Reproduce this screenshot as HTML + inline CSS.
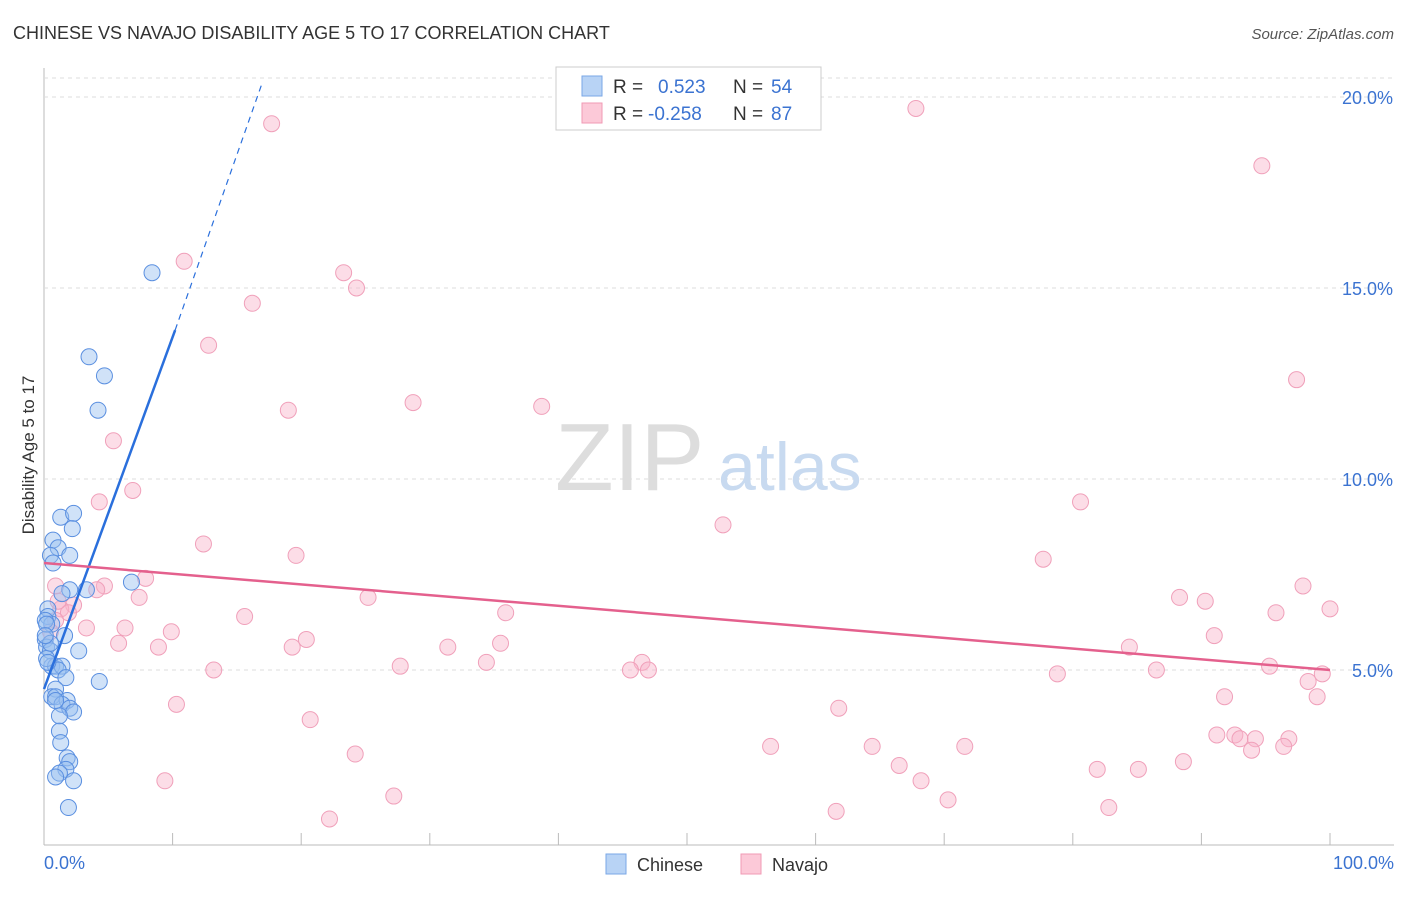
<!DOCTYPE html>
<html><head><meta charset="utf-8"><style>
body{margin:0;background:#fff;font-family:"Liberation Sans",sans-serif}
svg text{font-family:"Liberation Sans",sans-serif}
</style></head><body>
<svg id="chart" width="1406" height="892">
<text x="13" y="39" font-size="18" fill="#333">CHINESE VS NAVAJO DISABILITY AGE 5 TO 17 CORRELATION CHART</text>
<text x="1394" y="39" font-size="15" fill="#555" font-style="italic" text-anchor="end">Source: ZipAtlas.com</text>
<g id="grid"></g>
<text x="555" y="490" font-size="96" fill="#ddd" font-family="Liberation Serif">ZIP</text>
<text x="718" y="490" font-size="68" fill="#c8daf0">atlas</text>
<g id="pts"></g>
<g id="lines"></g>
<text transform="translate(34,455) rotate(-90)" font-size="17" fill="#333" text-anchor="middle">Disability Age 5 to 17</text>
<text x="44" y="869" font-size="18" fill="#3b73d1">0.0%</text>
<text x="1394" y="869" font-size="18" fill="#3b73d1" text-anchor="end">100.0%</text>
<g>
<rect x="556" y="67" width="265" height="63" fill="#fff" stroke="#ccc"/>
<rect x="582" y="76" width="20" height="20" fill="#b8d3f5" stroke="#7aa7e6"/>
<rect x="582" y="103" width="20" height="20" fill="#fcc9d8" stroke="#f09ab4"/>
<text x="613" y="93" font-size="19" fill="#333">R =</text><text x="658" y="93" font-size="19" fill="#3b73d1">0.523</text>
<text x="733" y="93" font-size="19" fill="#333">N =</text><text x="771" y="93" font-size="19" fill="#3b73d1">54</text>
<text x="613" y="120" font-size="19" fill="#333">R =</text><text x="648" y="120" font-size="19" fill="#3b73d1">-0.258</text>
<text x="733" y="120" font-size="19" fill="#333">N =</text><text x="771" y="120" font-size="19" fill="#3b73d1">87</text>
</g>
<g>
<rect x="606" y="854" width="20" height="20" fill="#b8d3f5" stroke="#7aa7e6"/>
<text x="637" y="871" font-size="18" fill="#333">Chinese</text>
<rect x="741" y="854" width="20" height="20" fill="#fcc9d8" stroke="#f09ab4"/>
<text x="772" y="871" font-size="18" fill="#333">Navajo</text>
</g>
</svg>
<script>
const yTicks=[5,10,15,20];
const chineseX=[8.4,3.5,4.7,4.2,1.3,2.3,2.2,0.7,1.1,2.0,0.5,0.7,6.8,3.3,2.0,1.4,0.3,0.3,0.6,1.6,0.1,0.2,0.5,2.7,0.6,0.9,1.4,1.1,1.7,4.3,0.9,0.6,0.9,1.8,1.4,2.0,2.3,1.2,1.2,1.3,1.8,2.0,1.7,1.2,0.9,2.3,1.9,0.1,0.2,0.2,0.3,0.9,0.5,0.1];
const chineseY=[15.4,13.2,12.7,11.8,9.0,9.1,8.7,8.4,8.2,8.0,8.0,7.8,7.3,7.1,7.1,7.0,6.6,6.4,6.2,5.9,5.8,5.6,5.5,5.5,5.1,5.1,5.1,5.0,4.8,4.7,4.5,4.3,4.3,4.2,4.1,4.0,3.9,3.8,3.4,3.1,2.7,2.6,2.4,2.3,2.2,2.1,1.4,6.3,6.2,5.3,5.2,4.2,5.7,5.9];
const navajoX=[17.7,67.8,94.7,10.9,23.3,24.3,16.2,12.8,97.4,28.7,38.7,19.0,5.4,4.3,6.9,80.6,52.8,12.4,19.6,77.7,7.9,4.7,0.9,4.1,7.4,25.2,97.9,88.3,90.3,2.3,35.9,1.3,1.9,15.6,95.8,100,6.3,3.3,9.9,20.4,5.8,91.0,31.4,19.3,35.5,8.9,84.4,27.7,34.4,46.5,45.6,47.0,13.2,78.8,86.5,95.3,99.4,98.3,91.8,10.3,99.0,61.8,20.7,91.2,92.6,93.0,96.8,94.2,56.5,71.6,64.4,93.9,96.4,24.2,88.6,66.5,85.1,81.9,9.4,68.2,27.2,70.3,82.8,22.2,61.6,0.9,0.5,1.1];
const navajoY=[19.3,19.7,18.2,15.7,15.4,15.0,14.6,13.5,12.6,12.0,11.9,11.8,11.0,9.4,9.7,9.4,8.8,8.3,8.0,7.9,7.4,7.2,7.2,7.1,6.9,6.9,7.2,6.9,6.8,6.7,6.5,6.6,6.5,6.4,6.5,6.6,6.1,6.1,6.0,5.8,5.7,5.9,5.6,5.6,5.7,5.6,5.6,5.1,5.2,5.2,5.0,5.0,5.0,4.9,5.0,5.1,4.9,4.7,4.3,4.1,4.3,4.0,3.7,3.3,3.3,3.2,3.2,3.2,3.0,3.0,3.0,2.9,3.0,2.8,2.6,2.5,2.4,2.4,2.1,2.1,1.7,1.6,1.4,1.1,1.3,6.3,6.0,6.8];
const X0=44,X1=1330,Y0=861,YP=38.2;
const sx=v=>X0+(X1-X0)*v/100, sy=v=>Y0-YP*v;
const NS='http://www.w3.org/2000/svg';
function mk(tag,attrs,parent){const e=document.createElementNS(NS,tag);for(const k in attrs)e.setAttribute(k,attrs[k]);parent.appendChild(e);return e;}
const grid=document.getElementById('grid');
mk('line',{x1:44,y1:68,x2:44,y2:845,stroke:'#bbb'},grid);
mk('line',{x1:44,y1:845,x2:1394,y2:845,stroke:'#bbb'},grid);
for(let i=0;i<=10;i++){const t=mk('line',{x1:sx(i*10),x2:sx(i*10),y1:845,y2:833,stroke:'#bbb'},grid);}
yTicks.forEach(v=>{
 const l=mk('line',{x1:44,x2:1394,y1:sy(v),y2:sy(v),stroke:'#ddd','stroke-dasharray':'4,4'},grid);
 
 
 const t=mk('text',{x:1393,y:sy(v)+7,'font-size':18,fill:'#3b73d1','text-anchor':'end'},grid);t.textContent=v.toFixed(1)+'%';
 
 
});
mk('line',{x1:44,x2:1394,y1:78,y2:78,stroke:'#ddd','stroke-dasharray':'4,4'},grid);
const pts=document.getElementById('pts');
navajoX.forEach((x,i)=>{const c=mk('circle',{cx:sx(x),cy:sy(navajoY[i]),r:8,fill:'rgba(248,180,202,0.45)',stroke:'#f0a0ba','stroke-width':1},pts);
 
 });
chineseX.forEach((x,i)=>{const c=mk('circle',{cx:sx(x),cy:sy(chineseY[i]),r:8,fill:'rgba(150,190,240,0.45)',stroke:'#5a8fe0','stroke-width':1},pts);
 
 });
const lines=document.getElementById('lines');
let l1=mk('line',{x1:sx(0),y1:sy(4.5),x2:sx(10.2),y2:sy(13.9),stroke:'#2a6fdc','stroke-width':2.5},lines);


let l2=mk('line',{x1:sx(10.2),y1:sy(13.9),x2:sx(17),y2:sy(20.4),stroke:'#2a6fdc','stroke-width':1.2,'stroke-dasharray':'6,5'},lines);


let l3=mk('line',{x1:sx(0),y1:sy(7.8),x2:sx(100),y2:sy(5.0),stroke:'#e4608d','stroke-width':2.5},lines);


</script>
</body></html>
